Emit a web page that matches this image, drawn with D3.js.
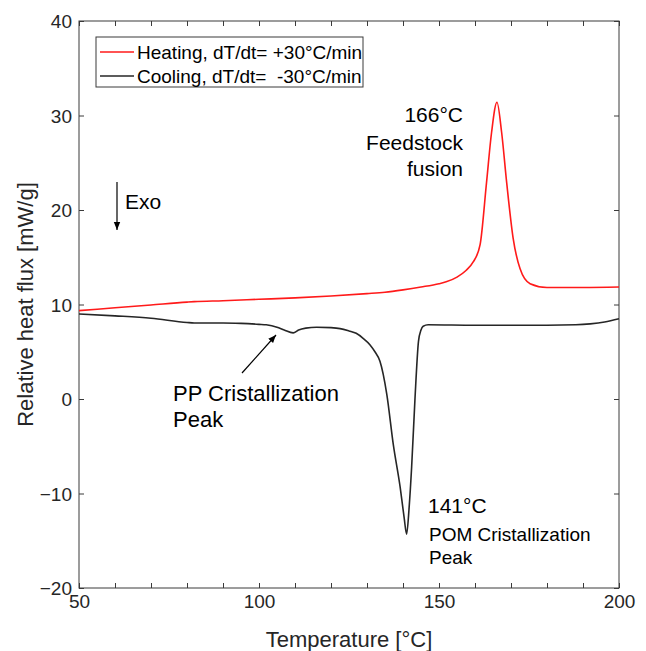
<!DOCTYPE html>
<html>
<head>
<meta charset="utf-8">
<script src="https://cdn.jsdelivr.net/npm/d3@7"></script>
<style>
  html, body { margin: 0; padding: 0; background: #fff; }
  svg { display: block; font-family: "Liberation Sans", Arial, Helvetica, sans-serif; }
</style>
</head>
<body>
<svg id="chart" width="646" height="651"></svg>
<script>
// DSC traces: temperature [°C] and relative heat flux [mW/g]
const heatingTemp = [50, 60, 70, 80, 82, 90, 100, 110, 120, 130, 135, 140, 145, 150, 152, 155, 157.5, 159.5, 161.4, 163.2, 164.6, 166.1, 167.4, 168.8, 170.6, 172.5, 175.3, 180, 190, 200];
const heatingFlux = [9.35, 9.65, 9.95, 10.25, 10.3, 10.4, 10.55, 10.7, 10.9, 11.15, 11.3, 11.55, 11.85, 12.2, 12.4, 12.9, 13.6, 14.5, 16.3, 22.9, 28.2, 31.4, 28.2, 22.9, 17.0, 13.8, 12.2, 11.8, 11.8, 11.85];

const coolingTemp = [50, 60, 70, 80, 82, 90, 95, 100, 102, 105, 107, 109.5, 111, 113, 116, 120, 122.5, 125, 127, 129, 130.8, 132.2, 133.6, 135.5, 137.3, 139.2, 140.3, 141, 141.7, 142.4, 143.3, 144.3, 145, 145.6, 147, 160, 180, 188, 192, 196, 200];
const coolingFlux = [9.0, 8.8, 8.55, 8.1, 8.05, 8.05, 8.0, 7.9, 7.85, 7.6, 7.3, 7.0, 7.3, 7.5, 7.6, 7.55, 7.45, 7.2, 6.95, 6.4, 5.75, 5.0, 4.0, 0.5, -4.8, -9.3, -12.5, -14.3, -11.5, -7.2, -0.2, 6.1, 7.3, 7.7, 7.85, 7.8, 7.8, 7.85, 7.95, 8.15, 8.5];

const seriesNames = ["Heating, dT/dt= +30°C/min", "Cooling, dT/dt=  -30°C/min"];
const seriesColors = ["#ff1a1a", "#262626"];

const xTickLabels = [50, 100, 150, 200];
const xMinorTicks = d3.range(50, 201, 10);
const yTickLabels = [-20, -10, 0, 10, 20, 30, 40];

const svg = d3.select("#chart");
const plotLeft = 79, plotRight = 619, plotTop = 21, plotBottom = 588;

const x = d3.scaleLinear().domain([50, 200]).range([plotLeft, plotRight]);
const y = d3.scaleLinear().domain([-20, 40]).range([plotBottom, plotTop]);

const axisColor = "#3a3a3a";
const tickLen = 5;

// frame
svg.append("rect")
  .attr("x", plotLeft).attr("y", plotTop)
  .attr("width", plotRight - plotLeft).attr("height", plotBottom - plotTop)
  .attr("fill", "none").attr("stroke", axisColor).attr("stroke-width", 1);

// axes with inward ticks (bottom/left labelled, top/right bare)
const fmt = d3.format("d");
const gBottom = svg.append("g").attr("transform", `translate(0,${plotBottom})`)
  .call(d3.axisBottom(x).tickValues(xMinorTicks).tickSize(-tickLen).tickPadding(0)
        .tickFormat(d => xTickLabels.includes(d) ? fmt(d) : ""));
const gTop = svg.append("g").attr("transform", `translate(0,${plotTop})`)
  .call(d3.axisTop(x).tickValues(xMinorTicks).tickSize(-tickLen).tickFormat(""));
const gLeft = svg.append("g").attr("transform", `translate(${plotLeft},0)`)
  .call(d3.axisLeft(y).tickValues(yTickLabels).tickSize(-tickLen).tickPadding(0).tickFormat(fmt));
const gRight = svg.append("g").attr("transform", `translate(${plotRight},0)`)
  .call(d3.axisRight(y).tickValues(yTickLabels).tickSize(-tickLen).tickFormat(""));

[gBottom, gTop, gLeft, gRight].forEach(g => {
  g.select(".domain").remove();
  g.selectAll(".tick line").attr("stroke", axisColor);
  g.selectAll(".tick text").attr("fill", "#262626")
    .style("font-size", "19px").style("font-family", "'Liberation Sans', Arial, sans-serif");
});
gBottom.selectAll(".tick text").attr("y", 20).attr("dy", "0");
gLeft.selectAll(".tick text").attr("x", -7).attr("dy", "0.35em");

// axis titles
svg.append("text")
  .attr("x", (plotLeft + plotRight) / 2).attr("y", 647)
  .attr("text-anchor", "middle").attr("fill", "#262626")
  .style("font-size", "22px")
  .text("Temperature [°C]");
svg.append("text")
  .attr("transform", `translate(33,${(plotTop + plotBottom) / 2}) rotate(-90)`)
  .attr("text-anchor", "middle").attr("fill", "#262626")
  .style("font-size", "22px")
  .text("Relative heat flux [mW/g]");

// curves
const line = d3.line().x(d => x(d[0])).y(d => y(d[1])).curve(d3.curveMonotoneX);
const heating = heatingTemp.map((t, i) => [t, heatingFlux[i]]);
const cooling = coolingTemp.map((t, i) => [t, coolingFlux[i]]);

svg.append("path").datum(cooling)
  .attr("d", line).attr("fill", "none")
  .attr("stroke", seriesColors[1]).attr("stroke-width", 1.6);
svg.append("path").datum(heating)
  .attr("d", line).attr("fill", "none")
  .attr("stroke", seriesColors[0]).attr("stroke-width", 1.6);

// legend
const legend = svg.append("g");
legend.append("rect")
  .attr("x", 96).attr("y", 37).attr("width", 267).attr("height", 50)
  .attr("fill", "#fff").attr("stroke", "#3a3a3a").attr("stroke-width", 1);
seriesNames.forEach((name, i) => {
  const cy = 52 + i * 24;
  legend.append("line")
    .attr("x1", 100).attr("x2", 134).attr("y1", cy).attr("y2", cy)
    .attr("stroke", seriesColors[i]).attr("stroke-width", 1.6);
  legend.append("text")
    .attr("x", 137).attr("y", cy).attr("dy", "0.35em")
    .attr("fill", "#000").style("font-size", "19px")
    .style("white-space", "pre").attr("xml:space", "preserve")
    .text(name);
});

// arrowhead marker
const defs = svg.append("defs");
defs.append("marker")
  .attr("id", "arrow").attr("viewBox", "0 0 10 10")
  .attr("refX", 10).attr("refY", 5)
  .attr("markerWidth", 8).attr("markerHeight", 8)
  .attr("markerUnits", "userSpaceOnUse")
  .attr("orient", "auto")
  .append("path").attr("d", "M0,1 L10,5 L0,9 Z").attr("fill", "#000");

// annotations
function note(txt, xp, yp, size, anchor) {
  svg.append("text")
    .attr("x", xp).attr("y", yp).attr("dy", "0.35em")
    .attr("text-anchor", anchor || "start")
    .attr("fill", "#000").style("font-size", size + "px")
    .text(txt);
}

// Exo direction arrow
svg.append("line")
  .attr("x1", 117).attr("y1", 182).attr("x2", 117).attr("y2", 230)
  .attr("stroke", "#000").attr("stroke-width", 1.2)
  .attr("marker-end", "url(#arrow)");
note("Exo", 125, 202, 21);

// fusion peak
note("166°C", 463, 115, 21, "end");
note("Feedstock", 463, 143, 21, "end");
note("fusion", 463, 169, 21, "end");

// PP crystallization
svg.append("line")
  .attr("x1", 242).attr("y1", 373).attr("x2", 276).attr("y2", 335)
  .attr("stroke", "#000").attr("stroke-width", 1.2)
  .attr("marker-end", "url(#arrow)");
note("PP Cristallization", 173, 393, 22);
note("Peak", 173, 419, 22);

// POM crystallization
note("141°C", 428, 506, 21);
note("POM Cristallization", 429, 534, 19);
note("Peak", 429, 557, 19);
</script>
</body>
</html>
